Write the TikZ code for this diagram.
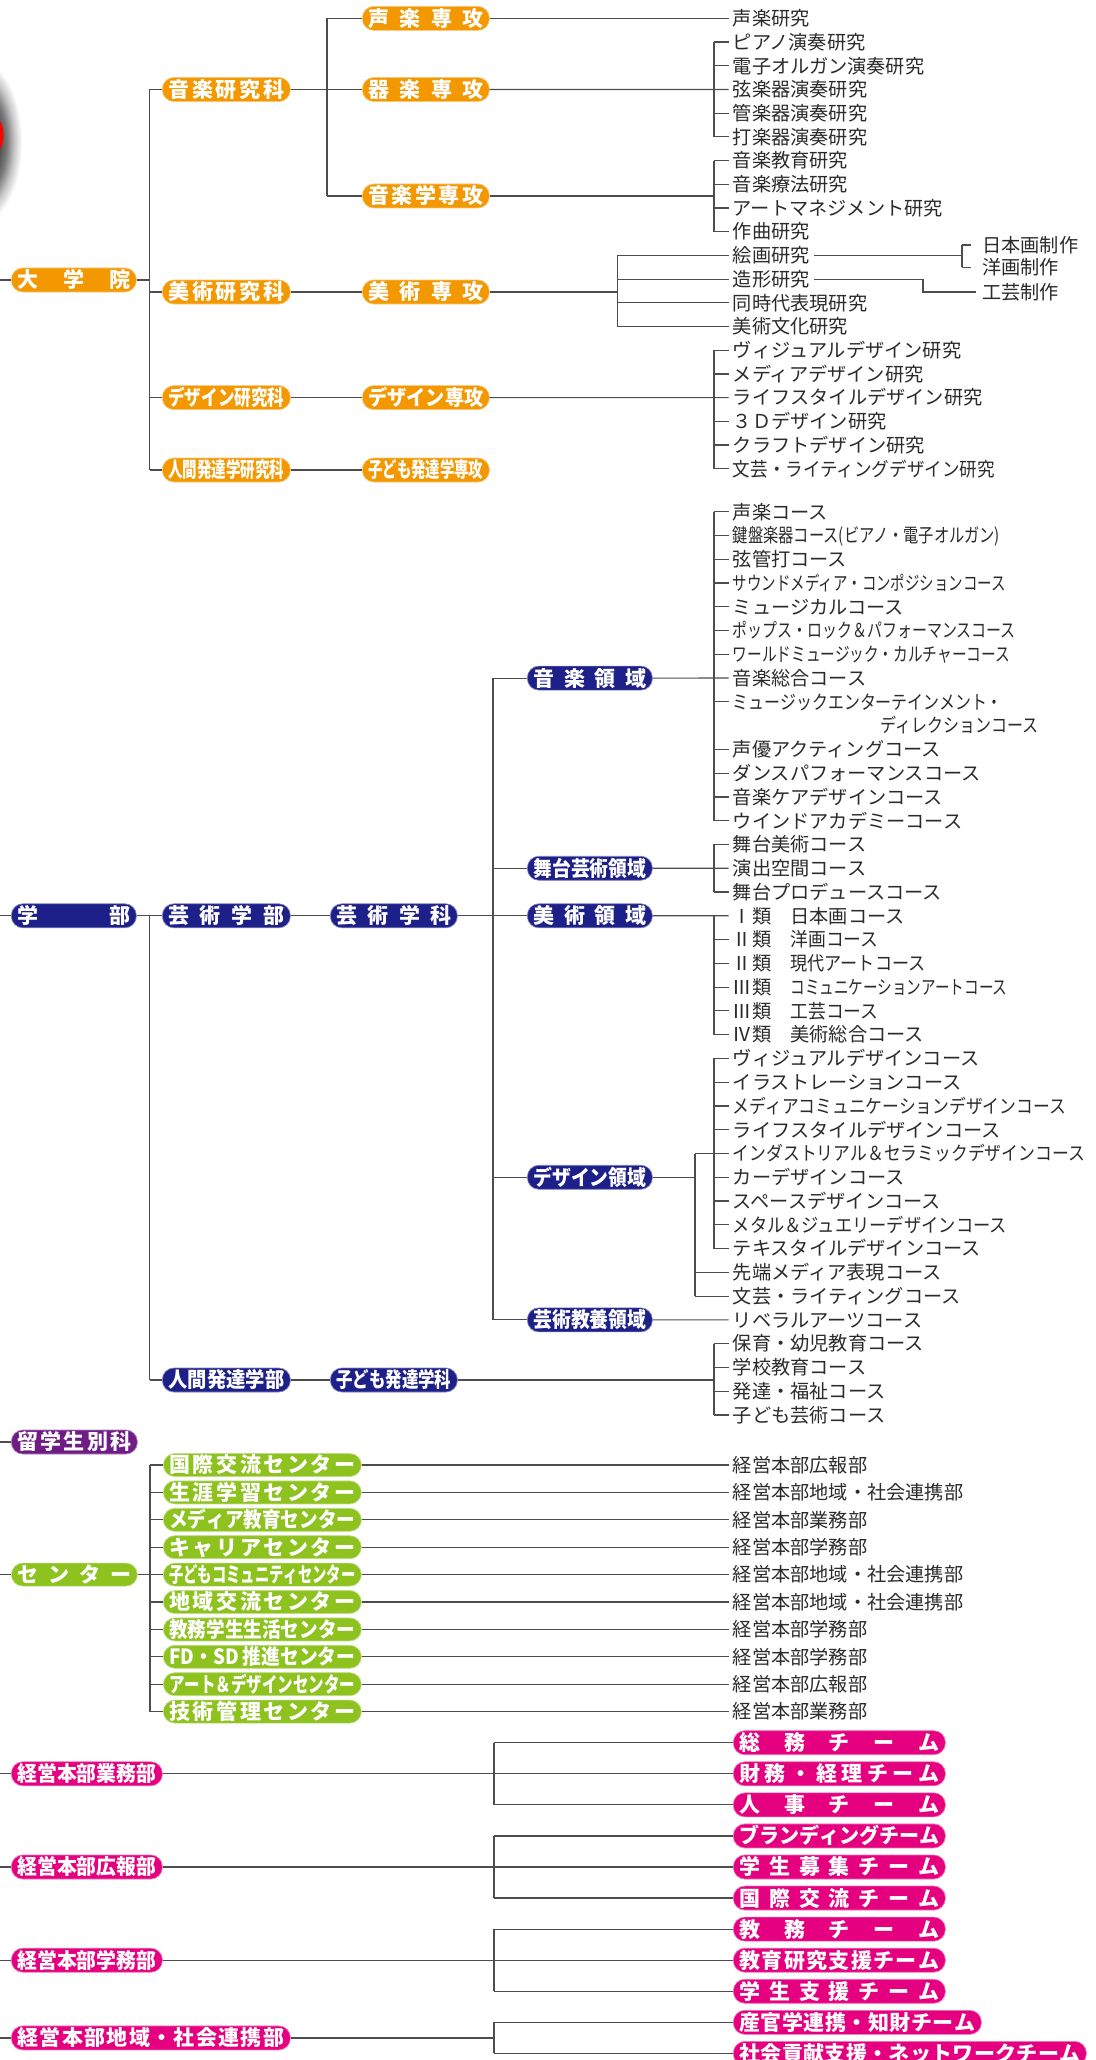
\documentclass[tikz,border=0pt]{standalone}
\usepackage{fontspec}
\usepackage{graphicx}
\newfontfamily\jp{Noto Sans CJK JP}
\usetikzlibrary{calc}
\definecolor{orgC}{HTML}{F39800}
\definecolor{navC}{HTML}{1D2088}
\definecolor{purC}{HTML}{6F1D85}
\definecolor{grnC}{HTML}{8DC21F}
\definecolor{pnkC}{HTML}{E4007F}
\definecolor{lineC}{HTML}{4D4D4D}
\definecolor{txtC}{HTML}{2B2B2B}
\newcommand\itemfont{\jp\fontsize{19.2}{22}\selectfont}
\newcommand\boxfont{\jp\bfseries\fontsize{21}{23}\selectfont}
\newlength\fitw \newlength\fitnat
\newsavebox\fitsb
\newcommand\fitto[2]{%
  \setlength\fitw{#1}%
  \sbox\fitsb{#2}%
  \setlength\fitnat{\wd\fitsb}%
  \ifdim\fitnat>\fitw
    \pgfmathsetmacro\fitratio{\fitw/\fitnat}%
    \scalebox{\fitratio}[1]{\usebox\fitsb}%
  \else
    \makebox[\fitw]{#2}%
  \fi}
\newcommand\sq[2]{%
  \setlength\fitw{#1pt}%
  \sbox\fitsb{#2}%
  \setlength\fitnat{\wd\fitsb}%
  \ifdim\fitnat>\fitw
    \pgfmathsetmacro\fitratio{\fitw/\fitnat}%
    \scalebox{\fitratio}[1]{\usebox\fitsb}%
  \else
    \usebox\fitsb
  \fi}
\def\spreadstop{\relax}
\def\spreadA#1{\def\spreadtmp{#1}\ifx\spreadtmp\spreadstop\else{#1}\expandafter\spreadB\fi}
\def\spreadB#1{\def\spreadtmp{#1}\ifx\spreadtmp\spreadstop\else\hfill{#1}\expandafter\spreadB\fi}
\newcommand\spread[1]{\spreadA#1\relax}
\newcommand\cls[1]{\makebox[19.2pt]{#1}類\hspace*{19.2pt}}
\pgfdeclareradialshading{blob}{\pgfpoint{0bp}{0bp}}{color(0bp)=(black!75); color(12bp)=(black!70); color(16bp)=(black!52); color(20bp)=(black!22); color(24bp)=(white); color(50bp)=(white)}
\tikzset{
  pill/.style={rounded corners=11.5pt, minimum height=24pt, inner sep=0pt, text=white, font=\boxfont, text height=18.4pt, text depth=2.5pt, anchor=west, line width=0.7pt},
  ob/.style={pill, fill=orgC, draw=orgC!55!white},
  nb/.style={pill, fill=navC, draw=navC!55!white},
  pb/.style={pill, fill=purC, draw=purC!55!white},
  gb/.style={pill, minimum height=23pt, fill=grnC, draw=grnC!55!white},
  kb/.style={pill, fill=pnkC, draw=pnkC!55!white},
  itemtxt/.style={anchor=west, inner xsep=4.2pt, inner ysep=0pt, font=\itemfont, text=txtC, text height=16.9pt, text depth=2.3pt},
  conn/.style={draw=lineC, line width=1.2pt},
}
\newcommand\pb[6]{\node[#1, minimum width=#4-#3] (#2) at (#3,#5) {\fitto{\dimexpr #4pt-#3pt-12pt\relax}{\spread{#6}}};}
\newcommand\itm[4]{\node[itemtxt] (#1) at (#2,#3) {#4};}
\newcommand\yT[1]{18.4+23.7*#1}
\newcommand\yM[1]{511.7+23.77*#1}
\newcommand\yC[1]{1465+27.4*#1}
\newcommand\yP[1]{1742.7+31.07*#1}
\begin{document}
\begin{tikzpicture}[x=1pt,y=-1pt]
\useasboundingbox (0,0) rectangle (1095,2060);
\fill[white] (0,0) rectangle (1095,2060);
% left-edge blur
\shade[shading=blob] (-24,142) ellipse [x radius=48pt, y radius=88pt];
\fill[red] (-6,135) ellipse [x radius=9.5pt, y radius=18pt];

% ---------- graduate school ----------
\pb{ob}{dai}{11}{136}{280}{大学院}
\pb{ob}{ong}{162}{290}{89.5}{音楽研究科}
\pb{ob}{bij}{162}{290}{292}{美術研究科}
\pb{ob}{des}{162}{290}{397.6}{デザイン研究科}
\pb{ob}{nin}{162}{290}{470}{人間発達学研究科}
\pb{ob}{seig}{362}{489}{18.4}{声楽専攻}
\pb{ob}{kig}{362}{489}{89.5}{器楽専攻}
\pb{ob}{ongg}{362}{489}{196}{音楽学専攻}
\pb{ob}{bijs}{362}{489}{292}{美術専攻}
\pb{ob}{dess}{362}{489}{397.6}{デザイン専攻}
\pb{ob}{kods}{362}{489}{470}{子ども発達学専攻}

\itm{t0}{728.5}{\yT{0}}{声楽研究}
\itm{t1}{728.5}{\yT{1}}{ピアノ演奏研究}
\itm{t2}{728.5}{\yT{2}}{電子オルガン演奏研究}
\itm{t3}{728.5}{\yT{3}}{弦楽器演奏研究}
\itm{t4}{728.5}{\yT{4}}{管楽器演奏研究}
\itm{t5}{728.5}{\yT{5}}{打楽器演奏研究}
\itm{t6}{728.5}{\yT{6}}{音楽教育研究}
\itm{t7}{728.5}{\yT{7}}{音楽療法研究}
\itm{t8}{728.5}{\yT{8}}{アートマネジメント研究}
\itm{t9}{728.5}{\yT{9}}{作曲研究}
\itm{t10}{728.5}{\yT{10}}{絵画研究}
\itm{t11}{728.5}{\yT{11}}{造形研究}
\itm{t12}{728.5}{\yT{12}}{同時代表現研究}
\itm{t13}{728.5}{\yT{13}}{美術文化研究}
\itm{t14}{728.5}{\yT{14}}{ヴィジュアルデザイン研究}
\itm{t15}{728.5}{\yT{15}}{メディアデザイン研究}
\itm{t16}{728.5}{\yT{16}}{ライフスタイルデザイン研究}
\itm{t17}{728.5}{\yT{17}}{３Ｄデザイン研究}
\itm{t18}{728.5}{\yT{18}}{クラフトデザイン研究}
\itm{t19}{728.5}{\yT{19}}{\sq{262}{文芸・ライティングデザイン研究}}
\node[itemtxt, inner xsep=11.5pt] (nih) at (970.5,245) {日本画制作};
\node[itemtxt, inner xsep=11.5pt] (you) at (970.5,267.5) {洋画制作};
\node[itemtxt, inner xsep=6pt] (kogei) at (976,292) {工芸制作};

\coordinate (s1) at (0,280);
\coordinate (trunk) at (149.5,0);
\coordinate (sv) at (327,0);
\coordinate (bxA) at (714,0);
\coordinate (bxB) at (617.6,0);
\coordinate (bxC) at (962,0);
\coordinate (jog) at (923,0);
\draw[conn] (s1) -- (dai.west);
\draw[conn] (dai.east) -- (dai.east -| trunk);
\draw[conn] (trunk |- ong.west) -- (trunk |- nin.west);
\foreach \n in {ong,bij,des,nin} \draw[conn] (trunk |- \n.west) -- (\n.west);
\draw[conn] (ong.east) -- (kig.west);
\draw[conn] (sv |- seig.west) -- (sv |- ongg.west);
\foreach \n in {seig,ongg} \draw[conn] (sv |- \n.west) -- (\n.west);
\draw[conn] (bij.east) -- (bijs.west);
\draw[conn] (des.east) -- (dess.west);
\draw[conn] (nin.east) -- (kods.west);
\draw[conn] (seig.east) -- (t0.west);
\draw[conn] (kig.east) -- (t3.west);
\draw[conn] (bxA |- t1.west) -- (bxA |- t5.west);
\foreach \n in {t1,t2,t4,t5} \draw[conn] (bxA |- \n.west) -- (\n.west);
\draw[conn] (ongg.east) -- (ongg.east -| bxA);
\draw[conn] (bxA |- t6.west) -- (bxA |- t9.west);
\foreach \n in {t6,t7,t8,t9} \draw[conn] (bxA |- \n.west) -- (\n.west);
\draw[conn] (bijs.east) -- (bijs.east -| bxB);
\draw[conn] (bxB |- t10.west) -- (bxB |- t13.west);
\foreach \n in {t10,t11,t12,t13} \draw[conn] (bxB |- \n.west) -- (\n.west);
\draw[conn] (t10.east) -- (t10.east -| bxC);
\draw[conn] (bxC |- nih.west) -- (bxC |- you.west);
\foreach \n in {nih,you} \draw[conn] (bxC |- \n.west) -- (\n.west);
\draw[conn] (t11.east) -- (t11.east -| jog) -- (jog |- kogei.west) -- (kogei.west);
\draw[conn] (dess.east) -- (t16.west);
\draw[conn] (bxA |- t14.west) -- (bxA |- t19.west);
\foreach \n in {t14,t15,t17,t18,t19} \draw[conn] (bxA |- \n.west) -- (\n.west);

% ---------- undergraduate ----------
\pb{nb}{gakubu}{11}{136}{915.8}{学部}
\pb{nb}{geib}{162}{290}{915.8}{芸術学部}
\pb{nb}{geik}{330}{457}{915.8}{芸術学科}
\pb{nb}{onr}{527}{652}{678.1}{音楽領域}
\pb{nb}{butr}{527}{652}{868.25}{舞台芸術領域}
\pb{nb}{bijr}{527}{652}{915.8}{美術領域}
\pb{nb}{desr}{527}{652}{1177.26}{デザイン領域}
\pb{nb}{kyor}{527}{652}{1319.88}{芸術教養領域}
\pb{nb}{ninb}{162}{290}{1380}{人間発達学部}
\pb{nb}{kodk}{330}{457}{1380}{子ども発達学科}

\itm{m0}{728.5}{\yM{0}}{声楽コース}
\itm{m1}{728.5}{\yM{1}}{\sq{267}{鍵盤楽器コース(ビアノ・電子オルガン)}}
\itm{m2}{728.5}{\yM{2}}{弦管打コース}
\itm{m3}{728.5}{\yM{3}}{\sq{273}{サウンドメディア・コンポジションコース}}
\itm{m4}{728.5}{\yM{4}}{ミュージカルコース}
\itm{m5}{728.5}{\yM{5}}{\sq{283}{ポップス・ロック＆パフォーマンスコース}}
\itm{m6}{728.5}{\yM{6}}{\sq{277}{ワールドミュージック・カルチャーコース}}
\itm{m7}{728.5}{\yM{7}}{音楽総合コース}
\itm{m8}{728.5}{\yM{8}}{\sq{270}{ミュージックエンターテインメント・}}
\itm{m9}{875.8}{\yM{9}}{\sq{158}{ディレクションコース}}
\itm{m10}{728.5}{\yM{10}}{声優アクティングコース}
\itm{m11}{728.5}{\yM{11}}{ダンスパフォーマンスコース}
\itm{m12}{728.5}{\yM{12}}{音楽ケアデザインコース}
\itm{m13}{728.5}{\yM{13}}{ウインドアカデミーコース}
\itm{m14}{728.5}{\yM{14}}{舞台美術コース}
\itm{m15}{728.5}{\yM{15}}{演出空間コース}
\itm{m16}{728.5}{\yM{16}}{舞台プロデュースコース}
\itm{m17}{728.5}{\yM{17}}{\cls{Ⅰ}\sq{115}{日本画コース}}
\itm{m18}{728.5}{\yM{18}}{\cls{Ⅱ}\sq{88}{洋画コース}}
\itm{m19}{728.5}{\yM{19}}{\cls{Ⅱ}\sq{135}{現代アートコース}}
\itm{m20}{728.5}{\yM{20}}{\cls{Ⅲ}\sq{217}{コミュニケーションアートコース}}
\itm{m21}{728.5}{\yM{21}}{\cls{Ⅲ}\sq{88}{工芸コース}}
\itm{m22}{728.5}{\yM{22}}{\cls{Ⅳ}\sq{134}{美術総合コース}}
\itm{m23}{728.5}{\yM{23}}{ヴィジュアルデザインコース}
\itm{m24}{728.5}{\yM{24}}{イラストレーションコース}
\itm{m25}{728.5}{\yM{25}}{\sq{333}{メディアコミュニケーションデザインコース}}
\itm{m26}{728.5}{\yM{26}}{ライフスタイルデザインコース}
\itm{m27}{728.5}{\yM{27}}{\sq{352}{インダストリアル＆セラミックデザインコース}}
\itm{m28}{728.5}{\yM{28}}{カーデザインコース}
\itm{m29}{728.5}{\yM{29}}{スペースデザインコース}
\itm{m30}{728.5}{\yM{30}}{\sq{274}{メタル＆ジュエリーデザインコース}}
\itm{m31}{728.5}{\yM{31}}{テキスタイルデザインコース}
\itm{m32}{728.5}{\yM{32}}{先端メディア表現コース}
\itm{m33}{728.5}{\yM{33}}{文芸・ライティングコース}
\itm{m34}{728.5}{\yM{34}}{リベラルアーツコース}
\itm{m35}{728.5}{\yM{35}}{保育・幼児教育コース}
\itm{m36}{728.5}{\yM{36}}{学校教育コース}
\itm{m37}{728.5}{\yM{37}}{発達・福祉コース}
\itm{m38}{728.5}{\yM{38}}{子ども芸術コース}

\coordinate (s2) at (0,915.8);
\coordinate (rv) at (493,0);
\coordinate (bxD) at (695,0);
\draw[conn] (s2) -- (gakubu.west);
\draw[conn] (gakubu.east) -- (geib.west);
\draw[conn] (trunk |- geib.west) -- (trunk |- ninb.west);
\draw[conn] (trunk |- ninb.west) -- (ninb.west);
\draw[conn] (geib.east) -- (geik.west);
\draw[conn] (geik.east) -- (bijr.west);
\draw[conn] (rv |- onr.west) -- (rv |- kyor.west);
\foreach \n in {onr,butr,desr,kyor} \draw[conn] (rv |- \n.west) -- (\n.west);
\draw[conn] (ninb.east) -- (kodk.west);
\draw[conn] (onr.east) -- (m7.west);
\draw[conn] (bxA |- m0.west) -- (bxA |- m13.west);
\foreach \n in {m0,m1,m2,m3,m4,m5,m6,m8,m10,m11,m12,m13} \draw[conn] (bxA |- \n.west) -- (\n.west);
\draw[conn] (butr.east) -- (m15.west);
\draw[conn] (bxA |- m14.west) -- (bxA |- m16.west);
\foreach \n in {m14,m16} \draw[conn] (bxA |- \n.west) -- (\n.west);
\draw[conn] (bijr.east) -- (m17.west);
\draw[conn] (bxA |- m17.west) -- (bxA |- m22.west);
\foreach \n in {m18,m19,m20,m21,m22} \draw[conn] (bxA |- \n.west) -- (\n.west);
\draw[conn] (desr.east) -- (desr.east -| bxD);
\draw[conn] (bxD |- m27.west) -- (bxD |- m33.west);
\foreach \n in {m27,m32,m33} \draw[conn] (bxD |- \n.west) -- (\n.west);
\draw[conn] (bxA |- m23.west) -- (bxA |- m31.west);
\foreach \n in {m23,m24,m25,m26,m28,m29,m30,m31} \draw[conn] (bxA |- \n.west) -- (\n.west);
\draw[conn] (kyor.east) -- (m34.west);
\draw[conn] (kodk.east) -- (kodk.east -| bxA);
\draw[conn] (bxA |- m35.west) -- (bxA |- m38.west);
\foreach \n in {m35,m36,m37,m38} \draw[conn] (bxA |- \n.west) -- (\n.west);

% ---------- special course / centers ----------
\pb{pb}{ryu}{11}{137}{1442}{留学生別科}
\pb{gb}{cen}{11}{137}{\yC{4}}{センター}
\pb{gb}{c0}{163}{361}{\yC{0}}{国際交流センター}
\pb{gb}{c1}{163}{361}{\yC{1}}{生涯学習センター}
\pb{gb}{c2}{163}{361}{\yC{2}}{メディア教育センター}
\pb{gb}{c3}{163}{361}{\yC{3}}{キャリアセンター}
\pb{gb}{c4}{163}{361}{\yC{4}}{子どもコミュニティセンター}
\pb{gb}{c5}{163}{361}{\yC{5}}{地域交流センター}
\pb{gb}{c6}{163}{361}{\yC{6}}{教務学生生活センター}
\pb{gb}{c7}{163}{361}{\yC{7}}{{FD・SD\ }推進センター}
\pb{gb}{c8}{163}{361}{\yC{8}}{アート＆デザインセンター}
\pb{gb}{c9}{163}{361}{\yC{9}}{技術管理センター}
\itm{ct0}{728.5}{\yC{0}}{経営本部広報部}
\itm{ct1}{728.5}{\yC{1}}{経営本部地域・社会連携部}
\itm{ct2}{728.5}{\yC{2}}{経営本部業務部}
\itm{ct3}{728.5}{\yC{3}}{経営本部学務部}
\itm{ct4}{728.5}{\yC{4}}{経営本部地域・社会連携部}
\itm{ct5}{728.5}{\yC{5}}{経営本部地域・社会連携部}
\itm{ct6}{728.5}{\yC{6}}{経営本部学務部}
\itm{ct7}{728.5}{\yC{7}}{経営本部学務部}
\itm{ct8}{728.5}{\yC{8}}{経営本部広報部}
\itm{ct9}{728.5}{\yC{9}}{経営本部業務部}
\coordinate (s3) at (0,1442);
\coordinate (s4) at (0,{\yC{4}});
\coordinate (cv) at (150,0);
\draw[conn] (s3) -- (ryu.west);
\draw[conn] (s4) -- (cen.west);
\draw[conn] (cen.east) -- (c4.west);
\draw[conn] (cv |- c0.west) -- (cv |- c9.west);
\foreach \i in {0,...,9} {
  \draw[conn] (cv |- c\i.west) -- (c\i.west);
  \draw[conn] (c\i.east) -- (ct\i.west);
}

% ---------- management ----------
\pb{kb}{gyo}{11}{162}{\yP{1}}{経営本部業務部}
\pb{kb}{kouh}{11}{162}{\yP{4}}{経営本部広報部}
\pb{kb}{gakm}{11}{162}{\yP{7}}{経営本部学務部}
\pb{kb}{chi}{11}{290}{2037.9}{経営本部地域・社会連携部}
\pb{kb}{tm0}{733}{945}{\yP{0}}{総務チーム}
\pb{kb}{tm1}{733}{945}{\yP{1}}{財務・経理チーム}
\pb{kb}{tm2}{733}{945}{\yP{2}}{人事チーム}
\pb{kb}{tm3}{733}{945}{\yP{3}}{ブランディングチーム}
\pb{kb}{tm4}{733}{945}{\yP{4}}{学生募集チーム}
\pb{kb}{tm5}{733}{945}{\yP{5}}{国際交流チーム}
\pb{kb}{tm6}{733}{945}{\yP{6}}{教務チーム}
\pb{kb}{tm7}{733}{945}{\yP{7}}{教育研究支援チーム}
\pb{kb}{tm8}{733}{945}{\yP{8}}{学生支援チーム}
\pb{kb}{tm9}{733}{981}{\yP{9}}{産官学連携・知財チーム}
\pb{kb}{tm10}{733}{1086}{\yP{10}}{社会貢献支援・ネットワークチーム}
\coordinate (pv) at (494,0);
\coordinate (s5) at (0,{\yP{1}});
\coordinate (s6) at (0,{\yP{4}});
\coordinate (s7) at (0,{\yP{7}});
\coordinate (s8) at (0,2037.9);
\draw[conn] (s5) -- (gyo.west);
\draw[conn] (s6) -- (kouh.west);
\draw[conn] (s7) -- (gakm.west);
\draw[conn] (s8) -- (chi.west);
\draw[conn] (gyo.east) -- (tm1.west);
\draw[conn] (pv |- tm0.west) -- (pv |- tm2.west);
\foreach \n in {tm0,tm2} \draw[conn] (pv |- \n.west) -- (\n.west);
\draw[conn] (kouh.east) -- (tm4.west);
\draw[conn] (pv |- tm3.west) -- (pv |- tm5.west);
\foreach \n in {tm3,tm5} \draw[conn] (pv |- \n.west) -- (\n.west);
\draw[conn] (gakm.east) -- (tm7.west);
\draw[conn] (pv |- tm6.west) -- (pv |- tm8.west);
\foreach \n in {tm6,tm8} \draw[conn] (pv |- \n.west) -- (\n.west);
\draw[conn] (chi.east) -- (chi.east -| pv);
\draw[conn] (pv |- tm9.west) -- (pv |- tm10.west);
\foreach \n in {tm9,tm10} \draw[conn] (pv |- \n.west) -- (\n.west);
\end{tikzpicture}
\end{document}
